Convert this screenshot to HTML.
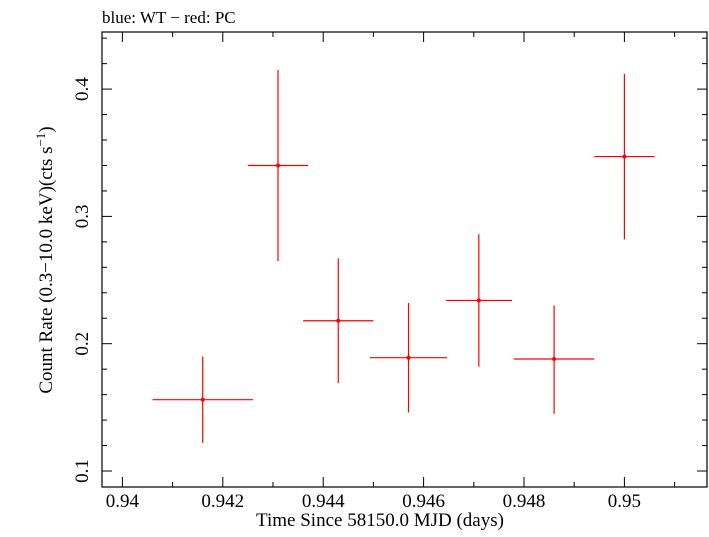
<!DOCTYPE html>
<html><head><meta charset="utf-8"><style>
body{margin:0;background:#fff;}
svg text{font-family:"Liberation Serif",serif;fill:#000;}
</style></head><body>
<svg width="709" height="532" xmlns="http://www.w3.org/2000/svg">
<text x="102" y="23" font-size="17">blue: WT − red: PC</text>
<rect x="102" y="32" width="605" height="455" fill="none" stroke="#000" stroke-width="1.2"/>
<g id="ticks"></g>
<g id="marks"></g>
<text x="380" y="526" font-size="19" text-anchor="middle">Time Since 58150.0 MJD (days)</text>
<text transform="translate(52,260) rotate(-90)" font-size="19" text-anchor="middle">Count Rate (0.3−10.0 keV)(cts s<tspan dy="-7" font-size="13">−1</tspan><tspan dy="7">)</tspan></text>
</svg>
<script>
const xTicks=[0.94,0.942,0.944,0.946,0.948,0.95];
const xTickLabels=["0.94","0.942","0.944","0.946","0.948","0.95"];
const yTicks=[0.1,0.2,0.3,0.4];
const yTickLabels=["0.1","0.2","0.3","0.4"];
const times=[0.9416,0.9431,0.9443,0.9457,0.9471,0.9486,0.9500];
const timeErr=[0.001,0.0006,0.0007,0.00077,0.00066,0.0008,0.0006];
const rates=[0.156,0.340,0.218,0.189,0.234,0.188,0.347];
const rateLo=[0.122,0.265,0.169,0.146,0.182,0.145,0.282];
const rateHi=[0.190,0.415,0.267,0.232,0.286,0.230,0.412];
const NS="http://www.w3.org/2000/svg";
const L=102,R=707,T=32,B=487;
const xs=v=>122.4+(v-0.94)/0.002*100.4;
const ys=v=>471-(v-0.1)/0.1*127.3;
const tg=document.getElementById('ticks'),mg=document.getElementById('marks');
function ln(g,x1,y1,x2,y2,c,w){const e=document.createElementNS(NS,'line');e.setAttribute('x1',x1);e.setAttribute('y1',y1);e.setAttribute('x2',x2);e.setAttribute('y2',y2);e.setAttribute('stroke',c);e.setAttribute('stroke-width',w);g.appendChild(e);return e;}
function tx(x,y,s,a,tr){const e=document.createElementNS(NS,'text');e.setAttribute('x',x);e.setAttribute('y',y);e.setAttribute('font-size','19');e.setAttribute('text-anchor',a);if(tr)e.setAttribute('transform',tr);e.textContent=s;tg.appendChild(e);return e;}
for(let i=0;i<=11;i++){const v=0.94+i*0.001,x=xs(v);if(x<L||x>R)continue;const len=i%2==0?10:5;
 let t=ln(tg,x,B,x,B-len,'#000',1);
 t=ln(tg,x,T,x,T+len,'#000',1);}
xTicks.forEach((v,i)=>{const e=tx(xs(v),507,xTickLabels[i],'middle');});
for(let i=0;i<=18;i++){const v=0.1+i*0.02,y=ys(v);if(y<T||y>B)continue;const len=i%5==0?10:5;
 let t=ln(tg,L,y,L+len,y,'#000',1);
 t=ln(tg,R,y,R-len,y,'#000',1);}
yTicks.forEach((v,i)=>{const y=ys(v);const e=tx(88,y,yTickLabels[i],'middle','rotate(-90 88 '+y+')');e.setAttribute('dy','0');});
times.forEach((t,i)=>{const g=document.createElementNS(NS,'g');
 
 
 ln(g,xs(t-timeErr[i]),ys(rates[i]),xs(t+timeErr[i]),ys(rates[i]),'#f00',1.2);
 ln(g,xs(t),ys(rateLo[i]),xs(t),ys(rateHi[i]),'#f00',1.2);
 const c=document.createElementNS(NS,'circle');c.setAttribute('cx',xs(t));c.setAttribute('cy',ys(rates[i]));c.setAttribute('r','2');c.setAttribute('fill','#f00');g.appendChild(c);
 mg.appendChild(g);});
</script>
</body></html>
